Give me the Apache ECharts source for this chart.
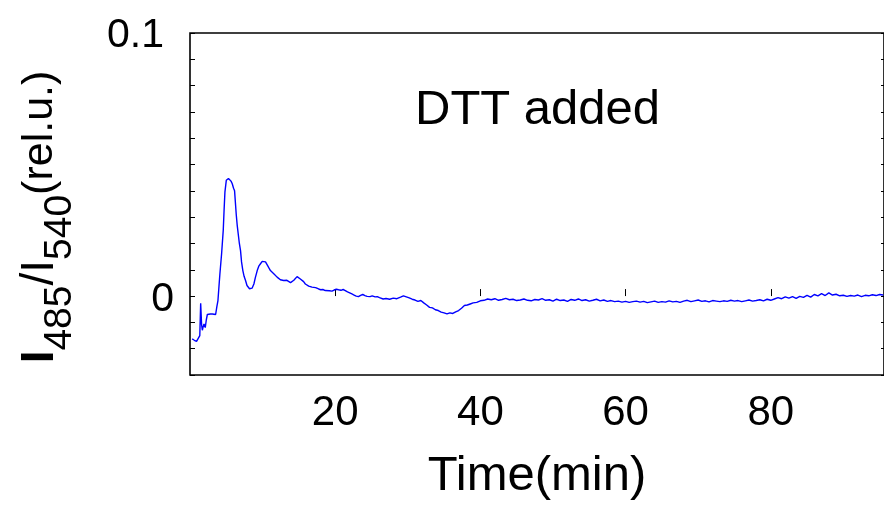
<!DOCTYPE html>
<html>
<head>
<meta charset="utf-8">
<script src="https://cdn.jsdelivr.net/npm/echarts@6/dist/echarts.min.js"></script>
<style>
html,body{margin:0;padding:0;background:#fff;}
#chart{width:884px;height:511px;}
</style>
</head>
<body>
<div id="chart"></div>
<script>
// Time (min) vs I485/I540 ratio (rel.u.)
const ratioSeries = [
[0.3,-0.0163],[0.6,-0.0168],[0.9,-0.0172],[1.15,-0.0176],[1.35,-0.0150],[1.47,-0.0027],[1.6,-0.0110],[1.7,-0.0130],
[1.8,-0.0118],[1.93,-0.0106],[2.1,-0.0120],[2.25,-0.0090],[2.39,-0.0070],[2.6,-0.0072],[2.8,-0.0068],[3.08,-0.0068],
[3.3,-0.0072],[3.53,-0.0070],[3.7,-0.0040],[3.85,-0.0017],[4.0,0.0040],[4.12,0.0085],[4.35,0.0160],[4.58,0.0250],
[4.7,0.0330],[4.81,0.0395],[5.0,0.0440],[5.13,0.0446],[5.3,0.0447],[5.5,0.0440],[5.65,0.0437],[5.82,0.0427],
[6.0,0.0410],[6.14,0.0400],[6.37,0.0310],[6.5,0.0270],[6.64,0.0237],[6.8,0.0200],[6.96,0.0173],[7.1,0.0130],
[7.28,0.0097],[7.45,0.0075],[7.65,0.0059],[7.85,0.0040],[8.02,0.0034],[8.2,0.0028],[8.34,0.0024],[8.55,0.0030],
[8.8,0.0046],[9.0,0.0070],[9.26,0.0097],[9.5,0.0115],[9.71,0.0123],[9.95,0.0132],[10.17,0.0135],[10.4,0.0130],
[10.63,0.0123],[10.85,0.0108],[11.08,0.0097],[11.3,0.0092],[11.54,0.0085],[11.8,0.0078],[12.0,0.0072],[12.23,0.0066],
[12.45,0.0062],[12.7,0.0064],[12.91,0.0059],[13.15,0.0056],[13.35,0.0060],[13.6,0.0053],[13.85,0.0051],[14.06,0.0052],
[14.3,0.0060],[14.52,0.0066],[14.75,0.0074],[14.97,0.0072],[15.2,0.0065],[15.43,0.0068],[15.65,0.0055],[15.89,0.0046],
[16.1,0.0044],[16.35,0.0038],[16.6,0.0036],[16.81,0.0034],[17.05,0.0030],[17.3,0.0032],[17.5,0.0026],[17.72,0.0027],
[18.0,0.0024],[18.3,0.0025],[18.64,0.0021],[18.9,0.0018],[19.2,0.0020],[19.56,0.0019],[19.85,0.0023],[20.15,0.0026],
[20.47,0.0024],[20.8,0.0022],[21.1,0.0025],[21.39,0.0021],[21.7,0.0016],[22.0,0.0012],[22.3,0.0008],[22.6,0.0004],
[22.9,0.0000],[23.2,-0.0002],[23.5,0.0003],[23.8,0.0006],[24.1,0.0002],[24.4,-0.0001],[24.8,-0.0002],[25.1,0.0001],
[25.5,-0.0003],[25.8,-0.0002],[26.1,-0.0006],[26.6,-0.0011],[27.0,-0.0009],[27.5,-0.0012],[28.0,-0.0008],[28.5,-0.0010],
[29.0,-0.0004],[29.4,0.0001],[29.8,-0.0003],[30.2,-0.0007],[30.6,-0.0012],[31.0,-0.0015],[31.4,-0.0020],[31.8,-0.0017],
[32.2,-0.0026],[32.6,-0.0034],[33.0,-0.0043],[33.4,-0.0045],[33.8,-0.0052],[34.2,-0.0055],[34.6,-0.0061],[35.0,-0.0064],
[35.4,-0.0068],[35.8,-0.0064],[36.2,-0.0066],[36.6,-0.0060],[37.0,-0.0055],[37.4,-0.0046],[37.8,-0.0036],[38.2,-0.0034],
[38.6,-0.0030],[39.0,-0.0026],[39.5,-0.0024],[40.0,-0.0018],[40.5,-0.0016],[41.0,-0.0011],[41.5,-0.0014],[42.0,-0.0010],
[42.5,-0.0016],[43.0,-0.0013],[43.5,-0.0009],[44.0,-0.0014],[44.5,-0.0012],[45.0,-0.0017],[45.5,-0.0015],[46.0,-0.0011],
[46.5,-0.0016],[47.0,-0.0018],[47.5,-0.0013],[48.0,-0.0015],[48.5,-0.0010],[49.0,-0.0016],[49.5,-0.0014],[50.0,-0.0019],
[50.5,-0.0012],[51.0,-0.0017],[51.5,-0.0015],[52.0,-0.0020],[52.5,-0.0013],[53.0,-0.0016],[53.5,-0.0011],[54.0,-0.0017],
[54.5,-0.0014],[55.0,-0.0019],[55.5,-0.0016],[56.0,-0.0012],[56.5,-0.0018],[57.0,-0.0015],[57.5,-0.0020],[58.0,-0.0017],
[58.5,-0.0021],[59.0,-0.0019],[59.5,-0.0023],[60.0,-0.0020],[60.5,-0.0024],[61.0,-0.0021],[61.5,-0.0019],[62.0,-0.0023],
[62.5,-0.0020],[63.0,-0.0025],[63.5,-0.0022],[64.0,-0.0019],[64.5,-0.0024],[65.0,-0.0021],[65.5,-0.0023],[66.0,-0.0018],
[66.5,-0.0022],[67.0,-0.0020],[67.5,-0.0024],[68.0,-0.0019],[68.5,-0.0016],[69.0,-0.0021],[69.5,-0.0018],[70.0,-0.0015],
[70.5,-0.0020],[71.0,-0.0018],[71.5,-0.0022],[72.0,-0.0017],[72.5,-0.0019],[73.0,-0.0021],[73.5,-0.0018],[74.0,-0.0020],
[74.5,-0.0016],[75.0,-0.0019],[75.5,-0.0017],[76.0,-0.0021],[76.5,-0.0018],[77.0,-0.0015],[77.5,-0.0019],[78.0,-0.0017],
[78.5,-0.0014],[79.0,-0.0018],[79.5,-0.0012],[80.0,-0.0016],[80.5,-0.0011],[81.0,-0.0006],[81.5,-0.0010],[82.0,-0.0003],
[82.5,-0.0008],[83.0,-0.0002],[83.5,-0.0009],[84.0,-0.0001],[84.5,-0.0005],[85.0,0.0003],[85.5,-0.0004],[86.0,0.0006],
[86.5,0.0001],[87.0,0.0009],[87.5,0.0002],[88.0,0.0012],[88.5,0.0004],[89.0,0.0007],[89.5,0.0001],[90.0,0.0003],
[90.5,-0.0001],[91.0,0.0002],[91.5,0.0000],[92.0,0.0004],[92.5,-0.0002],[93.0,0.0003],[93.5,0.0001],[94.0,0.0005],
[94.5,0.0002],[95.0,0.0006],[95.5,0.0004]
];
const xTickValues = [20, 40, 60, 80];
const yTickLabels = ['0', '0.1'];
const annotationText = 'DTT added';
const xAxisTitle = 'Time(min)';

const FONT = '"Liberation Sans", Arial, Helvetica, sans-serif';
const chart = echarts.init(document.getElementById('chart'));

function yFmt(v) {
  if (Math.abs(v) < 1e-9) return '{z|' + yTickLabels[0] + '}';
  if (Math.abs(v - 0.1) < 1e-9) return '{t|' + yTickLabels[1] + '}';
  return '';
}
function xFmt(v) {
  for (const t of xTickValues) if (Math.abs(v - t) < 1e-9) return String(t);
  return '';
}

chart.setOption({
  animation: false,
  backgroundColor: '#fff',
  grid: { left: 190, top: 33, right: -1, bottom: 136, show: true, borderColor: '#000', borderWidth: 1.6, backgroundColor: 'transparent' },
  xAxis: [{
    type: 'value', min: 0, max: 95.6, interval: 20,
    axisLine: { show: false },
    axisTick: { show: true, inside: true, length: 7, lineStyle: { color: '#000', width: 1 } },
    splitLine: { show: false },
    axisLabel: { formatter: xFmt, showMinLabel: false, showMaxLabel: false, margin: 17, color: '#000', fontFamily: FONT, fontSize: 42 },
    name: xAxisTitle, nameLocation: 'middle', nameGap: 77,
    nameTextStyle: { color: '#000', fontFamily: FONT, fontSize: 49 }
  }],
  yAxis: [{
    type: 'value', min: -0.03, max: 0.1, interval: 0.01,
    axisLine: { show: false },
    axisTick: { show: true, inside: true, length: 5, lineStyle: { color: '#000', width: 1 } },
    splitLine: { show: false },
    axisLabel: {
      formatter: yFmt, margin: 16, color: '#000', fontFamily: FONT, fontSize: 41,
      rich: {
        z: { fontFamily: FONT, fontSize: 41, color: '#000', padding: [7, 0, 0, 0] },
        t: { fontFamily: FONT, fontSize: 41, color: '#000', padding: [6, 10, 0, 0] }
      }
    },
    name: '{b|I}{s|485}{r|/I}{s|540}{p|(rel.u.)}',
    nameLocation: 'middle', nameRotate: 90, nameGap: 110,
    nameTextStyle: {
      color: '#000', fontFamily: FONT,
      rich: {
        b: { fontFamily: FONT, fontSize: 46, fontWeight: 'bold', color: '#000', lineHeight: 80, verticalAlign: 'middle' },
        r: { fontFamily: FONT, fontSize: 46, color: '#000', lineHeight: 80, verticalAlign: 'middle' },
        s: { fontFamily: FONT, fontSize: 39, color: '#000', lineHeight: 20, verticalAlign: 'bottom' },
        p: { fontFamily: FONT, fontSize: 43, color: '#000', lineHeight: 80, verticalAlign: 'middle', padding: [0, 26, 0, 0] }
      }
    }
  }, {
    type: 'value', position: 'right', min: -0.03, max: 0.1, interval: 0.01,
    axisLine: { show: false },
    axisTick: { show: true, inside: true, length: 3, lineStyle: { color: '#000', width: 1 } },
    axisLabel: { show: false },
    splitLine: { show: false }
  }],
  graphic: [{
    type: 'text', left: 415, top: 86,
    style: { text: annotationText, fill: '#000', font: '49px ' + FONT }
  }],
  series: [{
    type: 'line',
    data: ratioSeries,
    showSymbol: false,
    lineStyle: { color: '#0000ff', width: 1.4 },
    itemStyle: { color: '#0000ff' },
    z: 3
  }]
});
</script>
</body>
</html>
